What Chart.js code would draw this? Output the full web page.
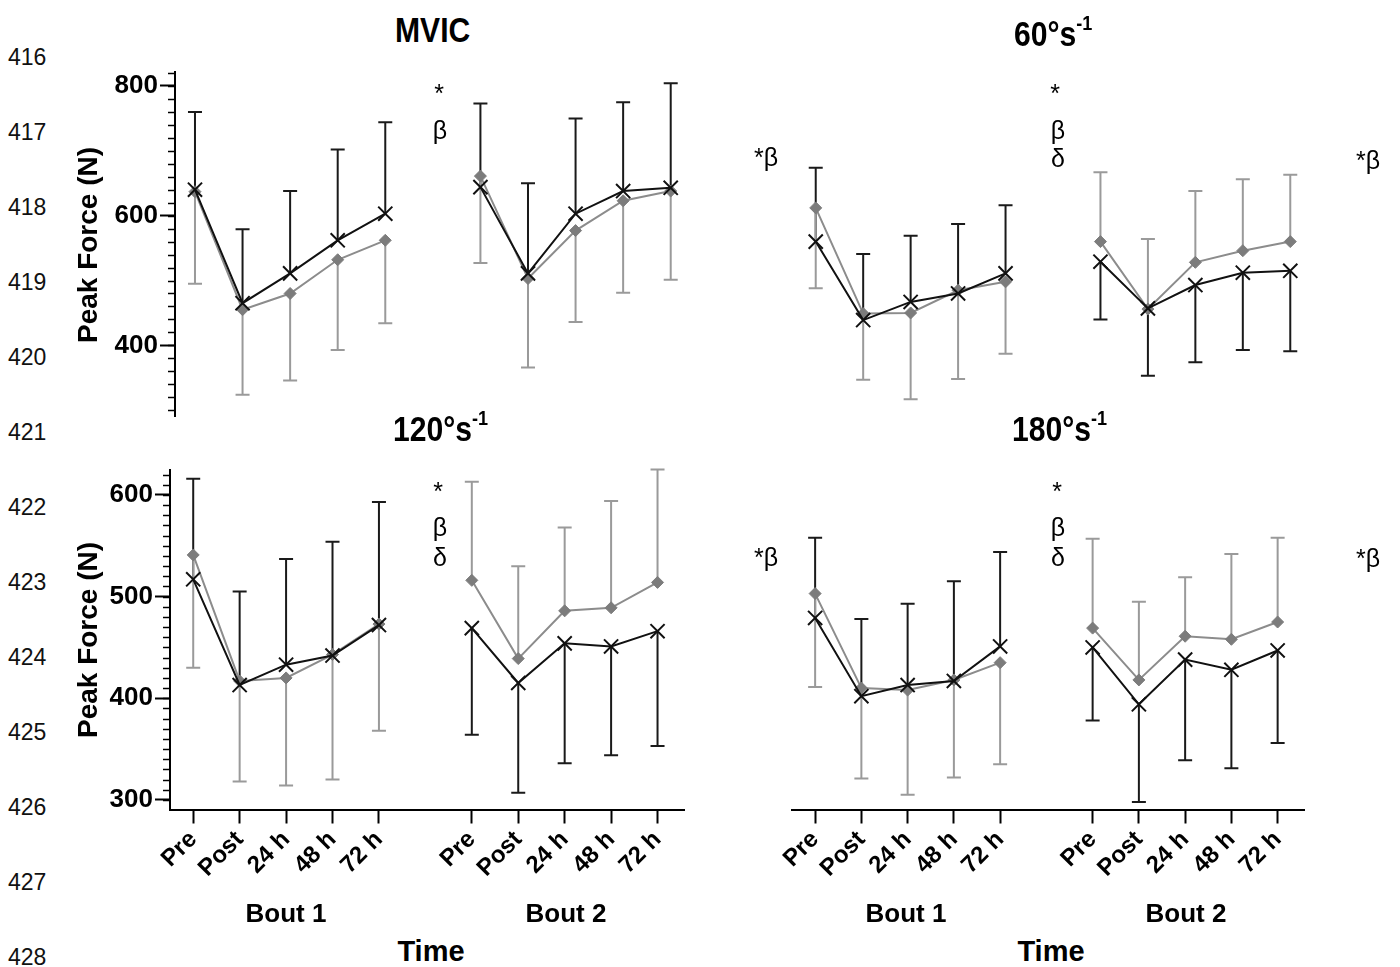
<!DOCTYPE html>
<html><head><meta charset="utf-8">
<script src="https://cdn.jsdelivr.net/npm/chart.js@4.4.1/dist/chart.umd.min.js"></script>
<style>
html,body{margin:0;padding:0;background:#fff;}
#wrap{position:relative;width:1400px;height:967px;overflow:hidden;font-family:"Liberation Sans",Arial,sans-serif;background:#fff;}
canvas{position:absolute;}
.t{position:absolute;white-space:nowrap;color:#000;line-height:1;}
.ln{font-size:23px;left:8px;transform:translateY(-50%);color:#111;}
.title{font-weight:bold;font-size:35px;transform-origin:0 50%;transform:translateY(-50%) scaleX(0.86);}
.title sup{font-size:0.6em;position:relative;top:-0.2em;vertical-align:top;}
.ann{font-size:25px;transform:translate(-50%,-50%);}
.bout{font-weight:bold;font-size:26px;transform:translate(-50%,-50%);}
.time{font-weight:bold;font-size:29px;transform:translate(-50%,-50%);}
.ylab{font-weight:bold;font-size:28px;transform:translate(-50%,-50%) rotate(-90deg);}
</style></head>
<body><div id="wrap">
<canvas id="cTL" width="660" height="390" style="left:60px;top:50px"></canvas>
<canvas id="cTR" width="680" height="390" style="left:720px;top:50px"></canvas>
<canvas id="cBL" width="660" height="460" style="left:60px;top:440px"></canvas>
<canvas id="cBR" width="680" height="460" style="left:720px;top:440px"></canvas>
</div>
<script>
// ---------- DATA ----------
const timeLabels = ['Pre', 'Post', '24 h', '48 h', '72 h'];
const boutLabels = ['Bout 1', 'Bout 2'];
const categories = [...timeLabels, '', ...timeLabels];
const lineNumbers = [416, 417, 418, 419, 420, 421, 422, 423, 424, 425, 426, 427, 428];
const panelTitles = ['MVIC', '60°s', '120°s', '180°s'];
const yTicksTop = [400, 600, 800];
const yTicksBottom = [300, 400, 500, 600];

// MVIC
const mvicGray      = [637, 455, 480, 532, 562, null, 661, 503, 577, 623, 638];
const mvicBlack     = [640, 465, 511, 562, 603, null, 644, 511, 603, 638, 643];
const mvicGrayErr   = [495, 324, 346, 393, 434, null, 527, 366, 436, 481, 501];
const mvicBlackErr  = [760, 579, 638, 702, 744, null, 773, 650, 750, 775, 804];
// 60 deg/s
const v60Gray       = [612, 449, 450, 485, 498, null, 560, 456, 528, 546, 560];
const v60Black      = [560, 439, 467, 480, 511, null, 529, 457, 493, 512, 515];
const v60GrayErr    = [488, 347, 317, 348, 387, null, 667, 564, 638, 656, 663];
const v60BlackErr   = [674, 541, 569, 587, 616, null, 440, 353, 374, 393, 391];
// 120 deg/s
const v120Gray      = [541, 417, 420, 443, 473, null, 516, 439, 486, 489, 514];
const v120Black     = [517, 413, 433, 442, 472, null, 469, 415, 454, 451, 466];
const v120GrayErr   = [430, 318, 314, 320, 368, null, 613, 530, 568, 594, 625];
const v120BlackErr  = [616, 505, 537, 554, 593, null, 364, 307, 336, 344, 353];
// 180 deg/s
const v180Gray      = [503, 410, 408, 418, 435, null, 469, 418, 461, 458, 475];
const v180Black     = [479, 402, 413, 417, 451, null, 450, 394, 438, 428, 447];
const v180GrayErr   = [411, 321, 305, 322, 335, null, 557, 495, 519, 542, 558];
const v180BlackErr  = [558, 478, 493, 515, 544, null, 378, 298, 339, 331, 356];

// ---------- TEXT OVERLAYS ----------
const wrap = document.getElementById('wrap');
function addText(cls, html, x, y) {
  const d = document.createElement('div');
  d.className = 't ' + cls; d.innerHTML = html;
  if (x !== null) d.style.left = x + 'px';
  d.style.top = y + 'px';
  wrap.appendChild(d);
}
lineNumbers.forEach((n, i) => addText('ln', String(n), null, 57 + 75 * i));
addText('title', panelTitles[0], 395, 29);
addText('title', panelTitles[1] + '<sup>-1</sup>', 1014, 33);
addText('title', panelTitles[2] + '<sup>-1</sup>', 393, 428);
addText('title', panelTitles[3] + '<sup>-1</sup>', 1012, 428);
addText('ylab', 'Peak Force (N)', 88, 245);
addText('ylab', 'Peak Force (N)', 88, 640);
[[286, 566], [906, 1186]].forEach(xs => {
  addText('bout', boutLabels[0], xs[0], 913);
  addText('bout', boutLabels[1], xs[1], 913);
});
addText('time', 'Time', 431, 951);
addText('time', 'Time', 1051, 951);
const anns = [
  ['*', 439, 93], ['β', 440, 130],
  ['*β', 766, 157], ['*', 1055, 93], ['β', 1058, 130], ['δ', 1058, 158], ['*β', 1368, 160],
  ['*', 438, 491], ['β', 440, 527], ['δ', 440, 557],
  ['*β', 766, 557], ['*', 1057, 491], ['β', 1058, 527], ['δ', 1058, 557], ['*β', 1368, 558]
];
anns.forEach(a => addText('ann', a[0], a[1], a[2]));

// ---------- PLUGINS ----------
const errorBars = {
  id: 'errorBars',
  beforeDatasetsDraw(chart) {
    const { ctx } = chart; const xs = chart.scales.x, ys = chart.scales.y;
    ctx.save();
    chart.data.datasets.forEach(ds => {
      ctx.strokeStyle = ds.errColor; ctx.lineWidth = 2;
      ds.means.forEach((m, i) => {
        const e = ds.errEnd[i];
        if (m == null || e == null) return;
        const px = xs.getPixelForValue(i), y0 = ys.getPixelForValue(m), y1 = ys.getPixelForValue(e);
        ctx.beginPath(); ctx.moveTo(px, y0); ctx.lineTo(px, y1);
        ctx.moveTo(px - 7, y1); ctx.lineTo(px + 7, y1); ctx.stroke();
      });
    });
    ctx.restore();
  }
};
const minorTicks = {
  id: 'minorTicks',
  afterDraw(chart, args, opts) {
    const ys = chart.scales.y;
    if (!opts || !opts.step || !ys.options.display) return;
    const ctx = chart.ctx; ctx.save();
    ctx.strokeStyle = '#000'; ctx.lineWidth = 1.5;
    for (let v = Math.ceil(ys.min / opts.step) * opts.step; v <= ys.max; v += opts.step) {
      const py = Math.round(ys.getPixelForValue(v)) + 0.5;
      ctx.beginPath(); ctx.moveTo(ys.right - opts.len, py); ctx.lineTo(ys.right, py); ctx.stroke();
    }
    ctx.restore();
  }
};

// ---------- CHART FACTORY ----------
const FONT = '"Liberation Sans", Arial, sans-serif';
const tickIdx = categories.map((c, i) => c ? i : null).filter(v => v !== null);
function series(gray, black, grayErr, blackErr) {
  return [
    { data: black.map((v, i) => ({ x: i, y: v })), means: black, errEnd: blackErr, errColor: '#1a1a1a',
      borderColor: '#111', borderWidth: 2, pointStyle: 'crossRot', pointRadius: 10, pointBorderWidth: 2,
      pointBorderColor: '#111', pointBackgroundColor: '#111', tension: 0, fill: false },
    { data: gray.map((v, i) => ({ x: i, y: v })), means: gray, errEnd: grayErr, errColor: '#9a9a9a',
      borderColor: '#8c8c8c', borderWidth: 2, pointStyle: 'rectRot', pointRadius: 6, pointBorderWidth: 1,
      pointBorderColor: '#7c7c7c', pointBackgroundColor: '#7c7c7c', tension: 0, fill: false }
  ];
}
function makePanel(id, cfg) {
  const yScale = {
    type: 'linear', min: cfg.yMin, max: cfg.yMax, display: cfg.showY,
    afterBuildTicks: s => { s.ticks = cfg.yTicks.map(v => ({ value: v })); },
    grid: { drawOnChartArea: false, drawTicks: true, tickLength: 15, tickWidth: 2, tickColor: '#000' },
    border: { display: true, color: '#000', width: 2 },
    ticks: { font: { family: FONT, size: 26, weight: 'bold' }, color: '#000', padding: 2 }
  };
  if (cfg.showY) yScale.afterFit = s => { s.width = cfg.yWidth; };
  const xScale = {
    type: 'linear', min: cfg.xMin, max: cfg.xMax, display: cfg.showX,
    afterBuildTicks: s => { s.ticks = tickIdx.map(v => ({ value: v })); },
    grid: { drawOnChartArea: false, drawTicks: true, tickLength: 14, tickWidth: 2, tickColor: '#000' },
    border: { display: true, color: '#000', width: 2 },
    ticks: { autoSkip: false, minRotation: 45, maxRotation: 45, padding: 2,
      font: { family: FONT, size: 24, weight: 'bold' }, color: '#000',
      callback: v => categories[v] }
  };
  if (cfg.showX) xScale.afterFit = s => { s.height = 90.5; };
  return new Chart(document.getElementById(id), {
    type: 'line',
    data: { datasets: series(cfg.gray, cfg.black, cfg.grayErr, cfg.blackErr) },
    options: {
      responsive: false, animation: false, events: [],
      layout: { padding: cfg.pad },
      plugins: { legend: { display: false }, tooltip: { enabled: false },
        minorTicks: { step: cfg.minor, len: 7 } },
      scales: { x: xScale, y: yScale }
    },
    plugins: [errorBars, minorTicks]
  });
}

makePanel('cTL', { gray: mvicGray, black: mvicBlack, grayErr: mvicGrayErr, blackErr: mvicBlackErr,
  yMin: 290, yMax: 822, yTicks: yTicksTop, minor: 20, showY: true, yWidth: 115, showX: false,
  xMin: -0.42, xMax: 10.5, pad: { left: 0, right: 25.5, top: 21.7, bottom: 23.3 } });
makePanel('cTR', { gray: v60Gray, black: v60Black, grayErr: v60GrayErr, blackErr: v60BlackErr,
  yMin: 290, yMax: 822, yTicks: yTicksTop, minor: 0, showY: false, yWidth: 0, showX: false,
  xMin: -0.5, xMax: 10.5, pad: { left: 72, right: 86, top: 21.7, bottom: 23.3 } });
makePanel('cBL', { gray: v120Gray, black: v120Black, grayErr: v120GrayErr, blackErr: v120BlackErr,
  yMin: 290.5, yMax: 624.6, yTicks: yTicksBottom, minor: 10, showY: true, yWidth: 110, showX: true,
  xMin: -0.5, xMax: 10.57, pad: { left: 0, right: 36, top: 30, bottom: 0 } });
makePanel('cBR', { gray: v180Gray, black: v180Black, grayErr: v180GrayErr, blackErr: v180BlackErr,
  yMin: 290.5, yMax: 624.6, yTicks: yTicksBottom, minor: 0, showY: false, yWidth: 0, showX: true,
  xMin: -0.5, xMax: 10.57, pad: { left: 72, right: 96, top: 30, bottom: 0 } });
</script>
</body></html>
